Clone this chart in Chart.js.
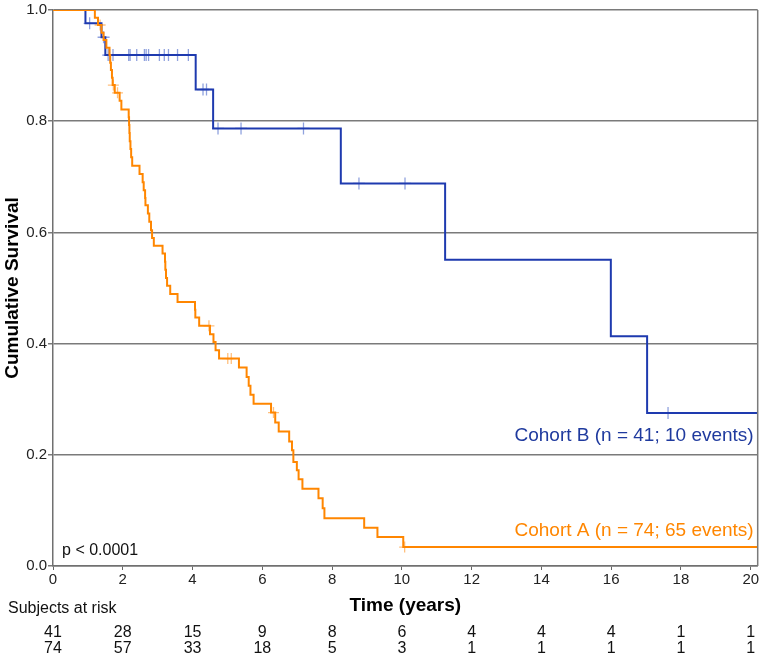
<!DOCTYPE html>
<html><head><meta charset="utf-8">
<script src="https://cdn.jsdelivr.net/npm/chart.js@4.4.1/dist/chart.umd.min.js"></script>
<style>html,body{margin:0;padding:0;background:#fff;}#wrap{width:765px;height:657px;}</style>
</head><body><div id="wrap"><canvas id="c" width="765" height="657"></canvas></div>
<script>
// ---- data ----
const xTicks = [0, 2, 4, 6, 8, 10, 12, 14, 16, 18, 20];
const yTicks = [0, 0.2, 0.4, 0.6, 0.8, 1.0];
const followUpEnd = 20.2;

const cohortA_times = [1.20,1.29,1.39,1.45,1.53,1.62,1.64,1.66,1.69,1.71,1.77,1.91,1.96,2.17,2.18,2.19,2.20,2.22,2.24,2.27,2.48,2.57,2.60,2.64,2.65,2.72,2.76,2.81,2.84,2.89,3.14,3.21,3.22,3.24,3.27,3.36,3.57,4.07,4.08,4.19,4.50,4.60,4.66,4.76,5.33,5.55,5.61,5.66,5.75,6.25,6.37,6.47,6.77,6.85,6.89,6.99,7.04,7.15,7.61,7.73,7.78,8.92,9.30,10.04];
const cohortA_surv  = [0.986,0.973,0.959,0.946,0.932,0.919,0.905,0.892,0.878,0.865,0.851,0.837,0.821,0.807,0.793,0.779,0.764,0.750,0.735,0.720,0.705,0.690,0.676,0.662,0.649,0.634,0.619,0.604,0.590,0.576,0.562,0.547,0.533,0.518,0.504,0.489,0.475,0.461,0.447,0.432,0.417,0.403,0.388,0.373,0.357,0.340,0.324,0.308,0.292,0.276,0.258,0.242,0.224,0.208,0.187,0.172,0.156,0.139,0.122,0.104,0.086,0.069,0.052,0.034];
const cohortA_censorTimes = [1.35,1.73,1.85,4.47,5.01,5.11,6.32,10.08];
const cohortA_censorSurv  = [0.973,0.865,0.851,0.432,0.373,0.373,0.276,0.034];

const cohortB_times = [0.93,1.39,1.50,4.09,4.59,8.25,11.24,15.99,17.03];
const cohortB_surv  = [0.976,0.951,0.919,0.857,0.787,0.688,0.551,0.413,0.275];
const cohortB_censorTimes = [1.05,1.45,1.58,1.62,1.72,2.17,2.21,2.40,2.62,2.67,2.74,3.05,3.19,3.31,3.57,3.88,4.30,4.40,4.73,5.39,7.18,8.77,10.09,17.63];
const cohortB_censorSurv  = [0.976,0.951,0.919,0.919,0.919,0.919,0.919,0.919,0.919,0.919,0.919,0.919,0.919,0.919,0.919,0.919,0.857,0.857,0.787,0.787,0.787,0.688,0.688,0.275];

const riskTimes = [0, 2, 4, 6, 8, 10, 12, 14, 16, 18, 20];
const riskB = [41, 28, 15, 9, 8, 6, 4, 4, 4, 1, 1];
const riskA = [74, 57, 33, 18, 5, 3, 1, 1, 1, 1, 1];

const labelA = 'Cohort A (n = 74; 65 events)';
const labelB = 'Cohort B (n = 41; 10 events)';
const pText = 'p < 0.0001';

// ---- build ----
function kmPoints(times, surv) {
  const pts = [{x: 0, y: 1}];
  times.forEach((t, i) => pts.push({x: t, y: surv[i]}));
  pts.push({x: followUpEnd, y: surv[surv.length - 1]});
  return pts;
}
function censorPoints(times, surv) { return times.map((t, i) => ({x: t, y: surv[i]})); }

const ORANGE = 'rgb(255,134,0)';
const BLUE = 'rgb(30,58,175)';
const FONT = '"Liberation Sans", Arial, Helvetica, sans-serif';

const annot = {
  id: 'annot',
  afterDraw(chart) {
    const {ctx, chartArea: a, scales: {x, y}} = chart;
    ctx.save();
    ctx.strokeStyle = '#7a7a7a'; ctx.lineWidth = 1.5;
    ctx.beginPath(); ctx.moveTo(a.right, a.top); ctx.lineTo(a.right, a.bottom); ctx.stroke();
    ctx.font = '19px ' + FONT;
    ctx.textAlign = 'right'; ctx.textBaseline = 'alphabetic';
    ctx.fillStyle = '#1f3a9e';
    ctx.fillText(labelB, a.right - 4, y.getPixelForValue(0.2255));
    ctx.fillStyle = ORANGE;
    ctx.fillText(labelA, a.right - 4, y.getPixelForValue(0.054));
    ctx.font = '16px ' + FONT;
    ctx.fillStyle = '#111';
    ctx.textAlign = 'left';
    ctx.fillText(pText, x.getPixelForValue(0.26), y.getPixelForValue(0.02));
    ctx.fillText('Subjects at risk', 8, 613);
    ctx.textAlign = 'center';
    riskTimes.forEach((t, i) => {
      const px = x.getPixelForValue(t);
      ctx.fillText(String(riskB[i]), px, 637);
      ctx.fillText(String(riskA[i]), px, 653);
    });
    ctx.restore();
  }
};

new Chart(document.getElementById('c'), {
  type: 'line',
  data: {
    datasets: [
      {data: kmPoints(cohortA_times, cohortA_surv), borderColor: ORANGE, borderWidth: 2, stepped: 'before', pointRadius: 0, fill: false},
      {data: kmPoints(cohortB_times, cohortB_surv), borderColor: BLUE, borderWidth: 2, stepped: 'before', pointRadius: 0, fill: false},
      {type: 'scatter', data: censorPoints(cohortA_censorTimes, cohortA_censorSurv), pointStyle: 'cross', pointRadius: 5.5, borderColor: 'rgba(255,150,40,0.6)', pointBorderWidth: 1.3, showLine: false},
      {type: 'scatter', data: censorPoints(cohortB_censorTimes, cohortB_censorSurv), pointStyle: 'cross', pointRadius: 6, borderColor: 'rgba(70,100,200,0.6)', pointBorderWidth: 1.3, showLine: false}
    ]
  },
  options: {
    responsive: false, animation: false, devicePixelRatio: 1,
    layout: {padding: {top: 7, right: 4, left: 0, bottom: 0}},
    plugins: {legend: {display: false}, tooltip: {enabled: false}},
    scales: {
      x: {
        type: 'linear', min: 0, max: followUpEnd,
        afterBuildTicks: s => { s.ticks = xTicks.map(v => ({value: v})); },
        afterFit: s => { s.height = 91; },
        grid: {drawOnChartArea: false, drawTicks: true, tickLength: 4, color: '#666', lineWidth: 1},
        border: {display: true, color: '#707070', width: 1.5},
        ticks: {color: '#222', font: {family: FONT, size: 15}, padding: 1, maxRotation: 0},
        title: {display: true, text: 'Time (years)', color: '#000', font: {family: FONT, size: 19, weight: 'bold'}, padding: {top: 0, bottom: 40}}
      },
      y: {
        type: 'linear', min: 0, max: 1,
        afterBuildTicks: s => { s.ticks = yTicks.map(v => ({value: v})); },
        afterFit: s => { s.width = 53; },
        grid: {drawOnChartArea: true, drawTicks: true, tickLength: 5, color: '#7a7a7a', lineWidth: 1.5},
        border: {display: true, color: '#707070', width: 1.5},
        ticks: {color: '#222', font: {family: FONT, size: 15}, padding: 1, callback: v => Number(v).toFixed(1)},
        title: {display: true, text: 'Cumulative Survival', color: '#000', font: {family: FONT, size: 19, weight: 'bold'}, padding: {top: 1, bottom: 0}}
      }
    }
  },
  plugins: [annot]
});
</script>
</body></html>
